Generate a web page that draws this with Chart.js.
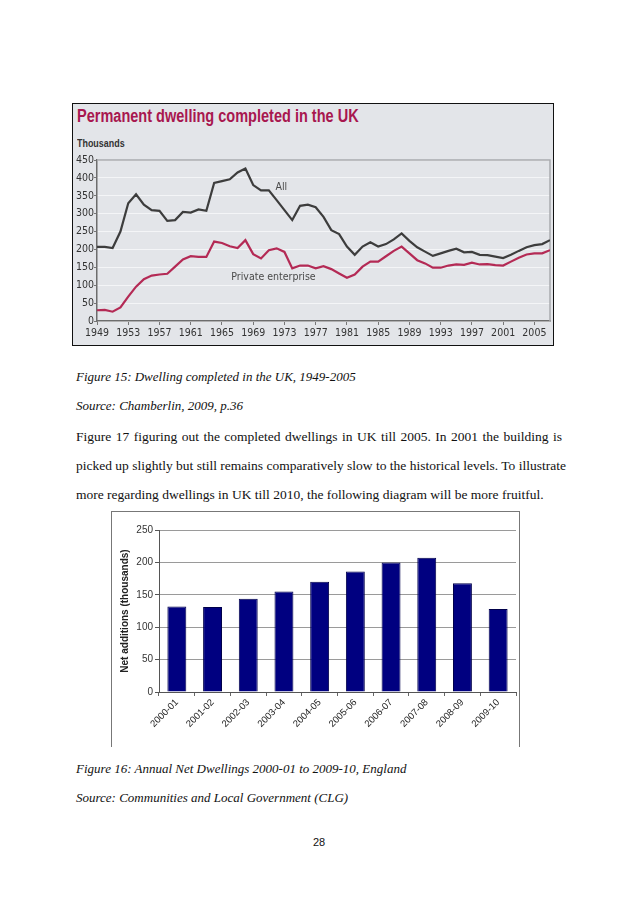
<!DOCTYPE html>
<html>
<head>
<meta charset="utf-8">
<script src="https://cdn.jsdelivr.net/npm/chart.js@4.4.1/dist/chart.umd.min.js"></script>
<style>
  body{margin:0;background:#fff;width:638px;height:903px;position:relative;overflow:hidden;font-family:"Liberation Serif","Times New Roman",serif;color:#111;}
  .abs{position:absolute;}
  #box1{left:72px;top:103px;width:480px;height:241px;border:1px solid #111;background:#e3e5e9;}
  #title1{left:4px;top:2px;font-family:"Liberation Sans",sans-serif;font-weight:bold;font-size:17.5px;color:#a8174f;white-space:nowrap;transform:scaleX(0.83);transform-origin:0 0;}
  #thous{left:4px;top:33px;font-family:"Liberation Sans",sans-serif;font-weight:bold;font-size:10.5px;color:#333;transform:scaleX(0.85);transform-origin:0 0;}
  #box2{left:111px;top:511px;width:407px;height:235px;border:1px solid #777;border-bottom:none;background:#fff;}
  .cap{left:76px;font-style:italic;font-size:13px;line-height:14px;white-space:nowrap;}
  .para{left:76px;width:486px;font-size:13.5px;line-height:14px;white-space:nowrap;}
  .just{text-align:justify;text-align-last:justify;}
</style>
</head>
<body>
<div id="box1" class="abs">
  <div id="title1" class="abs">Permanent dwelling completed in the UK</div>
  <div id="thous" class="abs">Thousands</div>
</div>
<canvas id="lineChart" class="abs" width="479" height="195" style="left:73px;top:150px;"></canvas>

<div class="abs cap" style="top:370px;">Figure 15: Dwelling completed in the UK, 1949-2005</div>
<div class="abs cap" style="top:399px;">Source: Chamberlin, 2009, p.36</div>
<div class="abs para just" style="top:430px;">Figure 17 figuring out the completed dwellings in UK till 2005. In 2001 the building is</div>
<div class="abs para just" style="top:459px;">picked up slightly but still remains comparatively slow to the historical levels. To illustrate</div>
<div class="abs para" style="top:488px;">more regarding dwellings in UK till 2010, the following diagram will be more fruitful.</div>

<div id="box2" class="abs"></div>
<canvas id="barChart" class="abs" width="407" height="233" style="left:112px;top:512px;"></canvas>

<div class="abs cap" style="top:762px;">Figure 16: Annual Net Dwellings 2000-01 to 2009-10, England</div>
<div class="abs cap" style="top:791px;">Source: Communities and Local Government (CLG)</div>
<div class="abs" style="left:0;width:638px;top:836px;text-align:center;font-family:'Liberation Sans',sans-serif;font-size:11px;">28</div>

<script>
// Figure 15 data (thousands)
const years=[1949,1950,1951,1952,1953,1954,1955,1956,1957,1958,
             1959,1960,1961,1962,1963,1964,1965,1966,1967,1968,
             1969,1970,1971,1972,1973,1974,1975,1976,1977,1978,
             1979,1980,1981,1982,1983,1984,1985,1986,1987,1988,
             1989,1990,1991,1992,1993,1994,1995,1996,1997,1998,
             1999,2000,2001,2002,2003,2004,2005,2006,2007];
const allDwellings=[207,207,204,250,329,354,325,310,308,280,
                    282,305,303,312,308,386,391,396,415,426,
                    380,365,365,338,310,282,322,325,318,291,
                    254,243,208,185,208,220,208,215,228,245,
                    224,206,194,182,189,196,202,192,193,185,
                    184,180,176,185,196,206,212,215,226];
const privateEnterprise=[30,31,26,38,68,96,117,127,130,132,
                         152,172,181,179,179,222,218,209,204,226,
                         187,175,198,203,193,147,155,155,147,153,
                         145,133,121,130,152,166,166,181,196,208,
                         189,170,161,149,149,155,158,157,163,158,
                         159,156,155,166,177,186,189,189,198];
const yearTicks=[1949,1953,1957,1961,1965,1969,1973,1977,1981,1985,1989,1993,1997,2001,2005];

// Figure 16 data (thousands)
const periods=["2000-01","2001-02","2002-03","2003-04","2004-05","2005-06","2006-07","2007-08","2008-09","2009-10"];
const netAdditions=[132,131,144,155,170,186,200,207,168,128];

const narrow="'DejaVu Sans Condensed','Liberation Sans',sans-serif";

// grey frame round the plot + in-chart series names
const plotFrame={
    id:"plotFrame",
    beforeDatasetsDraw(chart){
        const a=chart.chartArea, c=chart.ctx;
        c.save();
        c.strokeStyle="#a9abaf";
        c.lineWidth=1.5;
        c.beginPath();
        c.moveTo(a.left,a.top);c.lineTo(a.right,a.top);c.lineTo(a.right,a.bottom);
        c.stroke();
        c.restore();
    }
};
const seriesNames={
    id:"seriesNames",
    afterDatasetsDraw(chart){
        const x=chart.scales.x, y=chart.scales.y, c=chart.ctx;
        c.save();
        c.fillStyle="#4a4a4a";
        c.font="10.5px "+narrow;
        c.textAlign="center";
        c.textBaseline="middle";
        c.fillText("All",x.getPixelForValue(1972.6),y.getPixelForValue(374));
        c.fillText("Private enterprise",x.getPixelForValue(1971.6),y.getPixelForValue(123));
        c.restore();
    }
};

new Chart(document.getElementById("lineChart"),{
    type:"line",
    data:{
        labels:years,
        datasets:[{
            label:"All",
            data:years.map((yr,i)=>({x:yr,y:allDwellings[i]})),
            borderColor:"#3d3d3d",
            borderWidth:2.2,
            pointRadius:0,
            tension:0
        },{
            label:"Private enterprise",
            data:years.map((yr,i)=>({x:yr,y:privateEnterprise[i]})),
            borderColor:"#b42a55",
            borderWidth:2.2,
            pointRadius:0,
            tension:0
        }]
    },
    options:{
        responsive:false,
        animation:false,
        layout:{padding:{top:10,right:2,left:0,bottom:0}},
        plugins:{legend:{display:false},tooltip:{enabled:false}},
        scales:{
            x:{
                type:"linear",min:1949,max:2007,
                afterBuildTicks:(s)=>{s.ticks=yearTicks.map(v=>({value:v}));},
                afterFit:(s)=>{s.height=24;},
                grid:{drawOnChartArea:false,tickLength:4,color:"#777"},
                border:{color:"#6d6d6d",width:1.5},
                ticks:{callback:(v)=>String(v),maxRotation:0,autoSkip:false,padding:2,color:"#333",font:{family:narrow,size:10.5}}
            },
            y:{
                min:0,max:450,
                afterFit:(s)=>{s.width=24;},
                grid:{color:"#f4f5f7",lineWidth:1,tickLength:3,tickColor:"#777"},
                border:{color:"#6d6d6d",width:1.5},
                ticks:{stepSize:50,padding:0,color:"#333",font:{family:narrow,size:10.5}}
            }
        }
    },
    plugins:[plotFrame,seriesNames]
});

new Chart(document.getElementById("barChart"),{
    type:"bar",
    data:{
        labels:periods,
        datasets:[{
            label:"Net additions",
            data:netAdditions,
            backgroundColor:"#000080",
            borderColor:"#00004a",
            borderWidth:1,
            barPercentage:0.53,
            categoryPercentage:1
        }]
    },
    options:{
        responsive:false,
        animation:false,
        layout:{padding:{top:18,right:3,left:0,bottom:0}},
        plugins:{legend:{display:false},tooltip:{enabled:false}},
        scales:{
            x:{
                afterFit:(s)=>{s.height=53;},
                grid:{drawOnChartArea:false,tickLength:4,color:"#666"},
                border:{color:"#555"},
                ticks:{minRotation:45,maxRotation:45,autoSkip:false,padding:1,color:"#222",font:{family:"'Liberation Sans',Arial,sans-serif",size:9.5}}
            },
            y:{
                min:0,max:250,
                afterFit:(s)=>{s.width=47;},
                grid:{color:"#9a9a9a",tickLength:4,tickColor:"#555"},
                border:{color:"#555"},
                title:{display:true,text:"Net additions (thousands)",color:"#222",padding:{top:7,bottom:0},font:{family:"'Liberation Sans',Arial,sans-serif",size:10,weight:"bold"}},
                ticks:{stepSize:50,padding:2,color:"#333",font:{family:"'Liberation Sans',Arial,sans-serif",size:10}}
            }
        }
    }
});
</script>
</body>
</html>
